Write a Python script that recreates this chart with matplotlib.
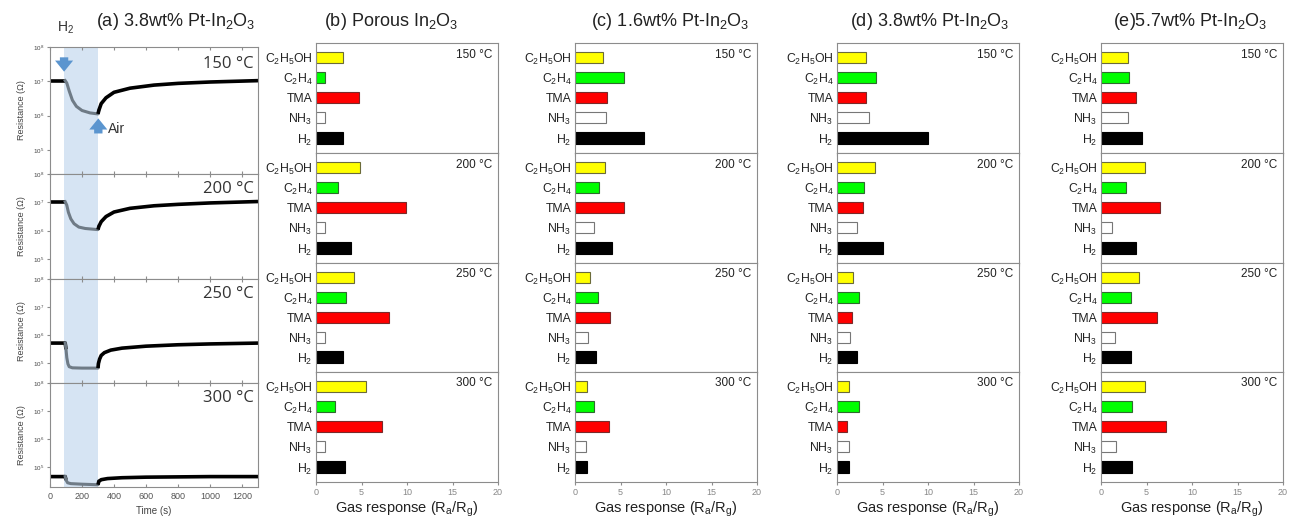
import matplotlib
matplotlib.use("Agg")
import matplotlib.pyplot as plt
import numpy as np
from matplotlib.ticker import FixedLocator, LogFormatterSciNotation

plt.rcParams["font.family"] = ["Liberation Sans", "DejaVu Sans"]
plt.rcParams["mathtext.fontset"] = "custom"
plt.rcParams["mathtext.rm"] = "Liberation Sans"
plt.rcParams["mathtext.it"] = "Liberation Sans:italic"
plt.rcParams["mathtext.default"] = "regular"

# ---- data -------------------------------------------------------------
temps = ["150", "200", "250", "300"]
gases = ["C$_2$H$_5$OH", "C$_2$H$_4$", "TMA", "NH$_3$", "H$_2$"]
gas_colors = ["#ffff00", "#00ff00", "#ff0000", "#ffffff", "#000000"]
gas_edges = ["#6b6b3a", "#2f6b2f", "#7a2a2a", "#777777", "#000000"]

panel_titles = ["(b) Porous In$_2$O$_3$", "(c) 1.6wt% Pt-In$_2$O$_3$",
                "(d) 3.8wt% Pt-In$_2$O$_3$", "(e)5.7wt% Pt-In$_2$O$_3$"]

# responses (Ra/Rg), rows = temperature, cols = gases (top to bottom)
porous_in2o3 = [[3.0, 1.0, 4.7, 1.0, 3.0],
                [4.8, 2.4, 9.9, 1.0, 3.8],
                [4.2, 3.3, 8.0, 1.0, 3.0],
                [5.5, 2.1, 7.2, 1.0, 3.2]]
pt_1p6 = [[3.1, 5.4, 3.5, 3.4, 7.6],
          [3.3, 2.6, 5.4, 2.1, 4.1],
          [1.6, 2.5, 3.9, 1.4, 2.3],
          [1.35, 2.1, 3.7, 1.25, 1.35]]
pt_3p8 = [[3.2, 4.3, 3.2, 3.5, 10.0],
          [4.2, 3.0, 2.85, 2.15, 5.0],
          [1.8, 2.4, 1.65, 1.4, 2.25],
          [1.3, 2.4, 1.15, 1.3, 1.3]]
pt_5p7 = [[3.0, 3.1, 3.8, 2.95, 4.55],
          [4.8, 2.7, 6.45, 1.25, 3.9],
          [4.15, 3.3, 6.2, 1.5, 3.3],
          [4.8, 3.45, 7.1, 1.65, 3.45]]
responses = [porous_in2o3, pt_1p6, pt_3p8, pt_5p7]

# transient of 3.8wt% Pt-In2O3 towards H2 (time in s, log10 resistance)
t_150 = [0, 95, 105, 120, 140, 165, 200, 250, 300, 305, 320, 350, 400, 500, 650, 800, 1000, 1300]
logr_150 = [7.02, 7.02, 6.95, 6.72, 6.45, 6.27, 6.15, 6.08, 6.05, 6.15, 6.35, 6.52, 6.68, 6.80, 6.89, 6.94, 6.98, 7.02]
t_200 = [0, 95, 105, 115, 130, 150, 180, 220, 300, 305, 320, 350, 400, 500, 650, 800, 1000, 1300]
logr_200 = [7.02, 7.02, 6.9, 6.65, 6.42, 6.25, 6.13, 6.08, 6.04, 6.15, 6.32, 6.5, 6.66, 6.79, 6.88, 6.93, 6.98, 7.03]
t_250 = [0, 95, 100, 105, 112, 120, 140, 200, 300, 303, 310, 320, 340, 380, 450, 600, 800, 1000, 1300]
logr_250 = [5.72, 5.72, 5.5, 5.2, 4.98, 4.88, 4.84, 4.83, 4.83, 5.0, 5.15, 5.28, 5.38, 5.47, 5.54, 5.61, 5.66, 5.69, 5.72]
t_300 = [0, 95, 100, 110, 130, 200, 300, 305, 320, 360, 450, 600, 800, 1000, 1300]
logr_300 = [4.67, 4.67, 4.55, 4.45, 4.42, 4.40, 4.38, 4.50, 4.56, 4.60, 4.63, 4.65, 4.66, 4.67, 4.67]
transients = [(t_150, logr_150), (t_200, logr_200), (t_250, logr_250), (t_300, logr_300)]
h2_on, h2_off = 90, 300

# ---- layout -------------------------------------------------------------
W, H = 1294, 522
fig = plt.figure(figsize=(W / 100, H / 100), dpi=100)


def box(x0, x1, y0, y1):
    return [x0 / W, 1 - y1 / H, (x1 - x0) / W, (y1 - y0) / H]


spine_c = "#8c8c8c"
arrow_style = "simple,head_width=1.3,head_length=0.8,tail_width=0.6"

# panel (a)
a_rows = [(47, 174), (174, 279), (279, 383), (383, 487)]
for i, (y0, y1) in enumerate(a_rows):
    ax = fig.add_axes(box(50, 258, y0, y1))
    ax.axvspan(h2_on, h2_off, color="#d6e4f3", lw=0, zorder=0)
    t, lr = transients[i]
    t = np.array(t, float)
    r = 10 ** np.array(lr)
    out1 = t <= 100
    mid = (t >= 95) & (t <= 305)
    out2 = t >= 300
    ax.plot(t[out1], r[out1], color="black", lw=2.6, solid_capstyle="butt")
    ax.plot(t[mid], r[mid], color="#6f7b86", lw=2.2)
    ax.plot(t[out2], r[out2], color="black", lw=2.6, solid_capstyle="butt")
    ax.set_yscale("log")
    ax.set_ylim(10 ** 4.3, 1e8)
    ax.set_xlim(0, 1300)
    ax.yaxis.set_major_locator(FixedLocator([1e5, 1e6, 1e7, 1e8]))
    ax.yaxis.set_minor_locator(FixedLocator([]))
    ax.yaxis.set_major_formatter(LogFormatterSciNotation())
    ax.set_xticks(range(0, 1400, 200))
    ax.tick_params(axis="y", labelsize=4.5, length=2, color=spine_c, labelcolor="#444444", pad=2)
    ax.tick_params(axis="x", labelsize=6.5, length=2, color=spine_c, labelcolor="#555555",
                   direction="in", top=True)
    if i < 3:
        ax.tick_params(axis="x", labelbottom=False)
    for s in ax.spines.values():
        s.set_color(spine_c)
    ax.set_ylabel("Resistance (\u03a9)", fontsize=6.5, color="#444444", labelpad=5)
    ax.text(0.98, 0.93, f"{temps[i]} \u00b0C", transform=ax.transAxes, ha="right", va="top",
            fontsize=12, color="#333333", family=["Open Sans", "DejaVu Sans"])
    if i == 0:
        ax.annotate("", xy=(88, 10 ** 7.2), xytext=(88, 10 ** 7.78),
                    arrowprops=dict(arrowstyle=arrow_style, color="#5b95cf", lw=0))
        ax.annotate("", xy=(302, 10 ** 6.0), xytext=(302, 10 ** 5.4),
                    arrowprops=dict(arrowstyle=arrow_style, color="#5b95cf", lw=0))
        ax.text(360, 10 ** 5.62, "Air", fontsize=10, color="#333333", va="center")
    if i == 3:
        ax.set_xlabel("Time (s)", fontsize=7, color="#444444", labelpad=4)

fig.text(57 / W, 1 - 36 / H, "H$_2$", fontsize=10, color="#333333", va="bottom")
fig.text(176 / W, 1 - 22 / H, "(a) 3.8wt% Pt-In$_2$O$_3$", fontsize=13, ha="center", va="center",
         color="#222222")

# bar panels
bar_rows = [(43, 153), (153, 263), (263, 372), (372, 482)]
bar_cols = [(316, 498), (575, 757), (837, 1019), (1101, 1283)]
title_x = [391, 670, 930, 1190]
ypos = np.arange(len(gases))[::-1]
for p, (x0, x1) in enumerate(bar_cols):
    for i, (y0, y1) in enumerate(bar_rows):
        ax = fig.add_axes(box(x0, x1, y0, y1))
        ax.barh(ypos, responses[p][i], height=0.56, color=gas_colors, edgecolor=gas_edges, lw=0.8)
        ax.set_xlim(0, 20)
        ax.set_ylim(-0.75, 4.72)
        ax.set_yticks(ypos)
        ax.set_yticklabels(gases)
        ax.set_xticks([0, 5, 10, 15, 20])
        ax.tick_params(axis="y", length=0, labelsize=8.8, pad=2.5, labelcolor="#222222")
        ax.tick_params(axis="x", length=2, color=spine_c, labelsize=6.5, labelcolor="#888888", pad=2)
        if i < 3:
            ax.tick_params(axis="x", labelbottom=False)
        else:
            ax.set_xlabel("Gas response (R$_a$/R$_g$)", fontsize=10.5, color="#222222", labelpad=2)
        for s in ax.spines.values():
            s.set_color(spine_c)
        ax.text(0.97, 0.95, f"{temps[i]} \u00b0C", transform=ax.transAxes, ha="right", va="top",
                fontsize=8.5, color="#222222")
    fig.text(title_x[p] / W, 1 - 22 / H, panel_titles[p], fontsize=13, ha="center", va="center",
             color="#222222")

fig.savefig("out.png", dpi=100)
